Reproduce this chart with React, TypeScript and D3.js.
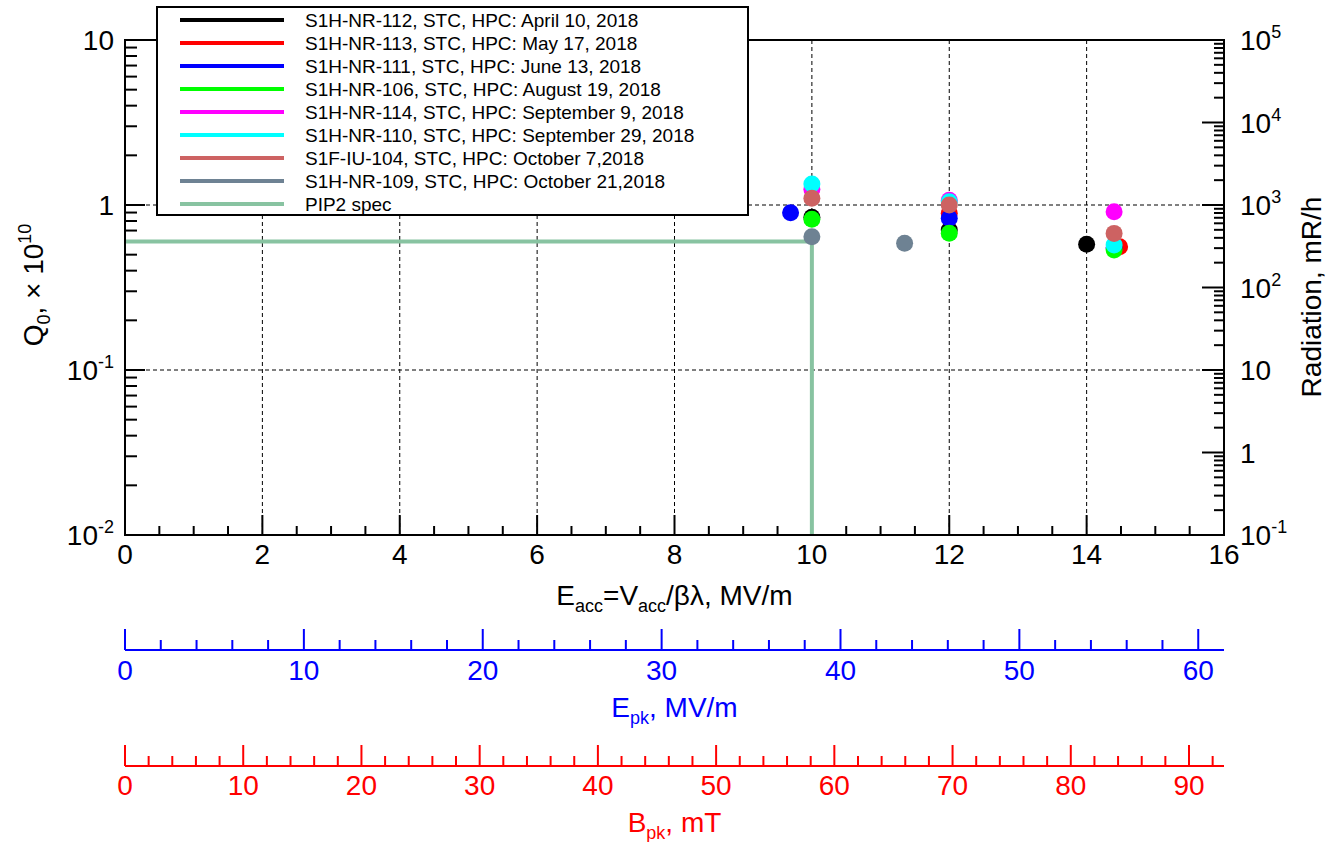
import * as d3 from "d3";

// series (legend order = drawing order)
const seriesNames = [
  "S1H-NR-112, STC, HPC: April 10, 2018",
  "S1H-NR-113, STC, HPC: May 17, 2018",
  "S1H-NR-111, STC, HPC: June 13, 2018",
  "S1H-NR-106, STC, HPC: August 19, 2018",
  "S1H-NR-114, STC, HPC: September 9, 2018",
  "S1H-NR-110, STC, HPC: September 29, 2018",
  "S1F-IU-104, STC, HPC: October 7,2018",
  "S1H-NR-109, STC, HPC: October 21,2018",
];
const seriesColors = ["#000000", "#ff0000", "#0000ff", "#00ff00", "#ff00ff", "#00ffff", "#cd6262", "#6e8293"];

// Eacc (MV/m) and Q0 (x 1e10) per cavity
const eaccS112 = [10, 12, 14.0];
const q0S112 = [0.842, 0.705, 0.578];
const eaccS113 = [12, 14.48];
const q0S113 = [0.89, 0.559];
const eaccS111 = [9.69, 12, 14.4];
const q0S111 = [0.898, 0.831, 0.55];
const eaccS106 = [10, 12, 14.4];
const q0S106 = [0.819, 0.674, 0.534];
const eaccS114 = [10, 12, 14.4];
const q0S114 = [1.245, 1.07, 0.911];
const eaccS110 = [10, 12, 14.4];
const q0S110 = [1.34, 1.047, 0.572];
const eaccS104 = [10, 12, 14.4];
const q0S104 = [1.098, 1.0, 0.673];
const eaccS109 = [10, 11.35];
const q0S109 = [0.642, 0.586];

const seriesEacc = [eaccS112, eaccS113, eaccS111, eaccS106, eaccS114, eaccS110, eaccS104, eaccS109];
const seriesQ0 = [q0S112, q0S113, q0S111, q0S106, q0S114, q0S110, q0S104, q0S109];

// PIP2 spec
const specName = "PIP2 spec";
const specColor = "#88c3a1";
const specEacc = [0, 10, 10];
const specQ0 = [0.6, 0.6, 0.01];

// axes
const eaccTicks = [0, 2, 4, 6, 8, 10, 12, 14, 16];
const q0Decades = [-2, -1, 0, 1];
const radDecades = [-1, 0, 1, 2, 3, 4, 5];
const epkPerEacc = 3.84;
const bpkPerEacc = 5.81;
const epkTicks = [0, 10, 20, 30, 40, 50, 60];
const bpkTicks = [0, 10, 20, 30, 40, 50, 60, 70, 80, 90];

const W = 1330, H = 842;
const L = 125, R = 1224, T = 40, B = 535;
const FONT = "'Liberation Sans', Arial, sans-serif";
const TICK_FS = 28;
const SUP_FS = 18;

function PowLabel({ x, y, exp, anchor, fill = "#000" }: any) {
  if (exp === 0) return <text x={x} y={y} textAnchor={anchor} fontSize={TICK_FS} fill={fill}>1</text>;
  if (exp === 1) return <text x={x} y={y} textAnchor={anchor} fontSize={TICK_FS} fill={fill}>10</text>;
  return (
    <text x={x} y={y} textAnchor={anchor} fontSize={TICK_FS} fill={fill}>
      10<tspan dy={-12} fontSize={SUP_FS}>{exp}</tspan>
    </text>
  );
}

export default function App() {
  const x = d3.scaleLinear().domain([0, 16]).range([L, R]);
  const y = d3.scaleLog().domain([0.01, 10]).range([B, T]);
  const yR = d3.scaleLog().domain([0.1, 1e5]).range([B, T]);
  const xE = d3.scaleLinear().domain([0, 16 * epkPerEacc]).range([L, R]);
  const xB = d3.scaleLinear().domain([0, 16 * bpkPerEacc]).range([L, R]);

  const minorLog = (decs: number[]) => {
    const out: number[] = [];
    decs.slice(0, -1).forEach((d) => {
      for (let m = 2; m <= 9; m++) out.push(m * Math.pow(10, d));
    });
    return out;
  };
  const qMinor = minorLog(q0Decades);
  const rMinor = minorLog(radDecades);
  const xMinor = d3.range(0, 16.001, 0.5).filter((v) => v % 2 !== 0);
  const eMinor = d3.range(0, 16 * epkPerEacc, 2).filter((v) => v % 10 !== 0);
  const bMinor = d3.range(0, 16 * bpkPerEacc, 2).filter((v) => v % 10 !== 0);

  const specLine = d3
    .line<number>()
    .x((_, i) => x(specEacc[i]))
    .y((d) => y(d))(specQ0);

  const legX = 157, legY = 7, legW = 591, legH = 208;
  const rowY = (i: number) => 20 + i * 23;

  return (
    <svg width={W} height={H} style={{ position: "absolute", left: 0, top: 0, background: "#fff" }} fontFamily={FONT}>
      <rect width={W} height={H} fill="#fff" />
      {/* grid */}
      <g stroke="#000" strokeWidth={1} strokeDasharray="4,3">
        {eaccTicks.slice(1, -1).map((v) => (
          <line key={"gx" + v} x1={x(v)} x2={x(v)} y1={T} y2={B} />
        ))}
        {[0.1, 1].map((v) => (
          <line key={"gy" + v} x1={L} x2={R} y1={y(v)} y2={y(v)} />
        ))}
      </g>

      {/* ticks */}
      <g stroke="#000" strokeWidth={2}>
        {eaccTicks.map((v) => (
          <line key={"bt" + v} x1={x(v)} x2={x(v)} y1={B} y2={B - 20} />
        ))}
        {xMinor.map((v) => (
          <line key={"bm" + v} x1={x(v)} x2={x(v)} y1={B} y2={B - 9} />
        ))}
        {q0Decades.map((d) => (
          <line key={"lt" + d} x1={L} x2={L + 20} y1={y(Math.pow(10, d))} y2={y(Math.pow(10, d))} />
        ))}
        {qMinor.map((v) => (
          <line key={"lm" + v} x1={L} x2={L + 12} y1={y(v)} y2={y(v)} />
        ))}
        {radDecades.map((d) => (
          <line key={"rt" + d} x1={R} x2={R - 22} y1={yR(Math.pow(10, d))} y2={yR(Math.pow(10, d))} />
        ))}
        {rMinor.map((v) => (
          <line key={"rm" + v} x1={R} x2={R - 10} y1={yR(v)} y2={yR(v)} />
        ))}
      </g>

      {/* PIP2 spec */}
      <path d={specLine || ""} fill="none" stroke={specColor} strokeWidth={4} />

      {/* points */}
      {seriesNames.map((name, si) => (
        <g key={name} fill={seriesColors[si]}>
          {seriesQ0[si].map((q, i) => (
            <circle key={i} cx={x(seriesEacc[si][i])} cy={y(q)} r={8.5} />
          ))}
        </g>
      ))}

      {/* frame */}
      <rect x={L} y={T} width={R - L} height={B - T} fill="none" stroke="#000" strokeWidth={2} />

      {/* tick labels */}
      <g fontSize={TICK_FS} fill="#000">
        {eaccTicks.map((v) => (
          <text key={"xl" + v} x={x(v)} y={564} textAnchor="middle">{v}</text>
        ))}
      </g>
      {q0Decades.map((d) => (
        <PowLabel key={"ql" + d} x={114} y={y(Math.pow(10, d)) + 10} exp={d} anchor="end" />
      ))}
      {radDecades.map((d) => (
        <PowLabel key={"rl" + d} x={1240} y={yR(Math.pow(10, d)) + 10} exp={d} anchor="start" />
      ))}

      {/* axis titles */}
      <text x={(L + R) / 2} y={605} textAnchor="middle" fontSize={TICK_FS}>
        E<tspan dy={7} fontSize={SUP_FS}>acc</tspan>
        <tspan dy={-7}>=V</tspan>
        <tspan dy={7} fontSize={SUP_FS}>acc</tspan>
        <tspan dy={-7}>/βλ, MV/m</tspan>
      </text>
      <text transform={`translate(43,285) rotate(-90)`} textAnchor="middle" fontSize={TICK_FS}>
        Q<tspan dy={7} fontSize={SUP_FS}>0</tspan>
        <tspan dy={-7}>, × 10</tspan>
        <tspan dy={-12} fontSize={SUP_FS}>10</tspan>
      </text>
      <text transform={`translate(1321,297) rotate(-90)`} textAnchor="middle" fontSize={TICK_FS}>
        Radiation, mR/h
      </text>

      {/* Epk axis */}
      <g stroke="#0000ff" strokeWidth={2}>
        <line x1={L} x2={R} y1={650} y2={650} />
        {epkTicks.map((v) => (
          <line key={"et" + v} x1={xE(v)} x2={xE(v)} y1={650} y2={629} />
        ))}
        {eMinor.map((v) => (
          <line key={"em" + v} x1={xE(v)} x2={xE(v)} y1={650} y2={640} />
        ))}
      </g>
      <g fontSize={TICK_FS} fill="#0000ff">
        {epkTicks.map((v) => (
          <text key={"el" + v} x={xE(v)} y={680} textAnchor="middle">{v}</text>
        ))}
        <text x={(L + R) / 2} y={717} textAnchor="middle">
          E<tspan dy={7} fontSize={SUP_FS}>pk</tspan>
          <tspan dy={-7}>, MV/m</tspan>
        </text>
      </g>

      {/* Bpk axis */}
      <g stroke="#ff0000" strokeWidth={2}>
        <line x1={L} x2={R} y1={766} y2={766} />
        {bpkTicks.map((v) => (
          <line key={"bt" + v} x1={xB(v)} x2={xB(v)} y1={766} y2={745} />
        ))}
        {bMinor.map((v) => (
          <line key={"bm" + v} x1={xB(v)} x2={xB(v)} y1={766} y2={756} />
        ))}
      </g>
      <g fontSize={TICK_FS} fill="#ff0000">
        {bpkTicks.map((v) => (
          <text key={"bl" + v} x={xB(v)} y={795} textAnchor="middle">{v}</text>
        ))}
        <text x={(L + R) / 2} y={832} textAnchor="middle">
          B<tspan dy={7} fontSize={SUP_FS}>pk</tspan>
          <tspan dy={-7}>, mT</tspan>
        </text>
      </g>

      {/* legend */}
      <rect x={legX} y={legY} width={legW} height={legH} fill="#fff" stroke="#000" strokeWidth={2} />
      {seriesNames.concat([specName]).map((name, i) => (
        <g key={"leg" + i}>
          <line x1={180} x2={284} y1={rowY(i)} y2={rowY(i)} stroke={i < seriesColors.length ? seriesColors[i] : specColor} strokeWidth={4} />
          <text x={305} y={rowY(i) + 7} fontSize={19}>{name}</text>
        </g>
      ))}
    </svg>
  );
}
